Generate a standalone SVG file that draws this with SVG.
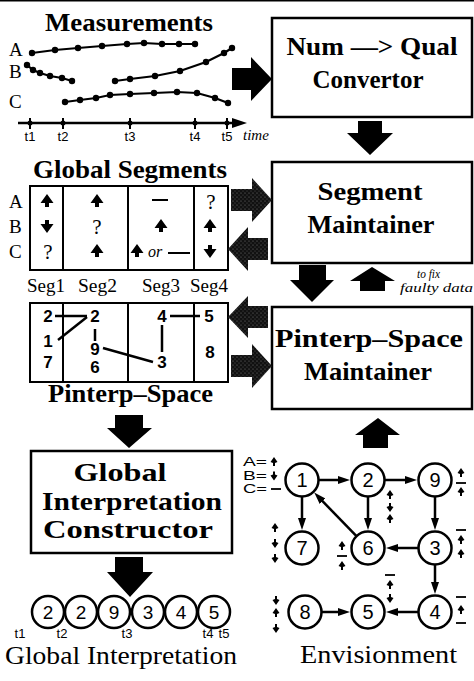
<svg xmlns="http://www.w3.org/2000/svg" width="474" height="681" viewBox="0 0 474 681">
<defs>
<style>
.box{fill:#fff;stroke:#000;stroke-width:2.5}
.tbl{fill:none;stroke:#000;stroke-width:2}
.ttl{font-family:"Liberation Serif",serif;font-weight:bold;font-size:26px;fill:#000}
.btx{font-family:"Liberation Serif",serif;font-weight:bold;font-size:26px;text-anchor:middle;fill:#000}
.cap{font-family:"Liberation Serif",serif;font-size:26px;fill:#000}
.lbl{font-family:"Liberation Serif",serif;font-size:19px;fill:#000}
.q{font-family:"Liberation Serif",serif;font-size:21px;text-anchor:middle;fill:#000}
.tl{font-family:"Liberation Sans",sans-serif;font-size:13px;text-anchor:middle;fill:#000}
.pn{font-family:"Liberation Sans",sans-serif;font-weight:bold;font-size:17px;text-anchor:middle;fill:#000}
.nn{font-family:"Liberation Sans",sans-serif;font-size:20px;text-anchor:middle;fill:#000}
.gn{font-family:"Liberation Sans",sans-serif;font-size:19px;text-anchor:middle;fill:#000}
.lg{font-family:"Liberation Sans",sans-serif;font-size:12px;fill:#000}
.it{font-family:"Liberation Serif",serif;font-style:italic;fill:#000}
.ln{fill:none;stroke:#000;stroke-width:2.2}
.nc{fill:#fff;stroke:#000;stroke-width:2.5}
.edge{fill:none;stroke:#000;stroke-width:2.5;marker-end:url(#ah)}
.solid{fill:#000}
.stip{fill:url(#stip)}
</style>
<pattern id="stip" width="4" height="4" patternUnits="userSpaceOnUse">
<rect width="4" height="4" fill="#111"/>
<circle cx="1" cy="1" r="0.6" fill="#777"/>
<circle cx="3" cy="3" r="0.6" fill="#555"/>
</pattern>
<marker id="ah" viewBox="0 0 12 8" refX="6" refY="4" markerWidth="12" markerHeight="8" markerUnits="userSpaceOnUse" orient="auto">
<path d="M0,0 L12,4 L0,8 Z" fill="#000"/>
</marker>
<path id="ua" d="M0,-7 L6.5,2 L2,2 L2,6 L-2,6 L-2,2 L-6.5,2 Z" fill="#000"/>
<path id="da" d="M0,7 L6.5,-2 L2,-2 L2,-6 L-2,-6 L-2,-2 L-6.5,-2 Z" fill="#000"/>
<path id="su" d="M0,-5 L3.5,0 L1,1 L1,4 L-1,4 L-1,1 L-3.5,0 Z" fill="#000"/>
<path id="sd" d="M0,5 L3.5,0 L1,-1 L1,-4 L-1,-4 L-1,-1 L-3.5,0 Z" fill="#000"/>
<rect id="sm" x="-5" y="-0.9" width="10" height="1.8" fill="#000"/>
</defs>
<rect x="0" y="0" width="474" height="1.5" fill="#000"/>

<g id="measurements">
<text class="ttl" x="45" y="31" textLength="168" lengthAdjust="spacingAndGlyphs">Measurements</text>
<text class="lbl" x="9" y="56">A</text>
<text class="lbl" x="9" y="78">B</text>
<text class="lbl" x="9" y="108">C</text>
<polyline class="ln" points="32,53 55,50 78,48 102,46 127,44 144,43 162,44 179,44 195,44"/>
<polyline class="ln" points="27,65 33,70 40,73 50,76 62,78 72,81"/>
<polyline class="ln" points="115,81 130,79 155,76 180,71 206,62 224,53 232,48"/>
<polyline class="ln" points="65,102 80,100 96,98 110,95 130,94 154,93 177,92 197,93 215,98 228,103"/>
<g fill="#000">
<circle cx="32" cy="53" r="3.2"/><circle cx="55" cy="50" r="3.2"/><circle cx="78" cy="48" r="3.2"/><circle cx="102" cy="46" r="3.2"/><circle cx="127" cy="44" r="3.2"/><circle cx="144" cy="43" r="3.2"/><circle cx="162" cy="44" r="3.2"/><circle cx="179" cy="44" r="3.2"/><circle cx="195" cy="44" r="3.2"/>
<circle cx="27" cy="65" r="3.2"/><circle cx="33" cy="70" r="3.2"/><circle cx="40" cy="73" r="3.2"/><circle cx="50" cy="76" r="3.2"/><circle cx="62" cy="78" r="3.2"/><circle cx="72" cy="81" r="3.2"/>
<circle cx="115" cy="81" r="3.2"/><circle cx="130" cy="79" r="3.2"/><circle cx="155" cy="76" r="3.2"/><circle cx="180" cy="71" r="3.2"/><circle cx="206" cy="62" r="3.2"/><circle cx="224" cy="53" r="3.2"/><circle cx="232" cy="48" r="3.2"/>
<circle cx="65" cy="102" r="3.2"/><circle cx="80" cy="100" r="3.2"/><circle cx="96" cy="98" r="3.2"/><circle cx="110" cy="95" r="3.2"/><circle cx="130" cy="94" r="3.2"/><circle cx="154" cy="93" r="3.2"/><circle cx="177" cy="92" r="3.2"/><circle cx="197" cy="93" r="3.2"/><circle cx="215" cy="98" r="3.2"/><circle cx="228" cy="103" r="3.2"/>
</g>
<line x1="18" y1="123" x2="236" y2="123" stroke="#000" stroke-width="2.5"/>
<path d="M232,118 L247,123 L232,128 Z" fill="#000"/>
<g stroke="#000" stroke-width="2">
<line x1="30" y1="118" x2="30" y2="129"/><line x1="63" y1="118" x2="63" y2="129"/><line x1="130" y1="118" x2="130" y2="129"/><line x1="195" y1="118" x2="195" y2="129"/><line x1="227" y1="118" x2="227" y2="129"/>
</g>
<g fill="#000">
<circle cx="30" cy="123" r="2.5"/><circle cx="63" cy="123" r="2.5"/><circle cx="130" cy="123" r="2.5"/><circle cx="195" cy="123" r="2.5"/><circle cx="227" cy="123" r="2.5"/>
</g>
<text class="tl" x="30" y="141" font-size="14">t1</text>
<text class="tl" x="63" y="141" font-size="14">t2</text>
<text class="tl" x="130" y="141" font-size="14">t3</text>
<text class="tl" x="195" y="141" font-size="14">t4</text>
<text class="tl" x="227" y="141" font-size="14">t5</text>
<text class="it" x="243" y="140" font-size="15">time</text>
</g>

<g id="num-qual">
<rect class="box" x="272" y="18" width="200" height="99"/>
<text class="btx" x="372" y="55" font-size="23" textLength="171" lengthAdjust="spacingAndGlyphs">Num —&gt; Qual</text>
<text class="btx" x="368" y="88" font-size="23" textLength="111" lengthAdjust="spacingAndGlyphs">Convertor</text>
</g>

<g id="global-segments">
<text class="ttl" x="33" y="178" textLength="194" lengthAdjust="spacingAndGlyphs">Global Segments</text>
<text class="lbl" x="9" y="208">A</text>
<text class="lbl" x="9" y="233">B</text>
<text class="lbl" x="9" y="258">C</text>
<rect class="tbl" x="30" y="186" width="198" height="84"/>
<line class="tbl" x1="63" y1="186" x2="63" y2="270"/>
<line class="tbl" x1="128" y1="186" x2="128" y2="270"/>
<line class="tbl" x1="194" y1="186" x2="194" y2="270"/>
<use href="#ua" x="47" y="201"/>
<use href="#da" x="47" y="226"/>
<text class="q" x="48" y="259">?</text>
<use href="#ua" x="97" y="201"/>
<text class="q" x="97" y="234">?</text>
<use href="#ua" x="97" y="251"/>
<line x1="152" y1="200" x2="168" y2="200" stroke="#000" stroke-width="2"/>
<use href="#ua" x="161" y="226"/>
<use href="#ua" x="137" y="251"/>
<text class="it" x="148" y="257" font-size="16">or</text>
<line x1="168" y1="253" x2="190" y2="253" stroke="#000" stroke-width="2"/>
<text class="q" x="211" y="209">?</text>
<use href="#ua" x="210" y="226"/>
<use href="#da" x="210" y="251"/>
</g>

<g id="segment-maintainer">
<rect class="box" x="272" y="162" width="200" height="101"/>
<text class="btx" x="370" y="200" textLength="105" lengthAdjust="spacingAndGlyphs">Segment</text>
<text class="btx" x="371" y="233" textLength="127" lengthAdjust="spacingAndGlyphs">Maintainer</text>
</g>

<g id="pinterp-space">
<text class="lbl" x="27" y="292" textLength="38" lengthAdjust="spacingAndGlyphs">Seg1</text>
<text class="lbl" x="78" y="292" textLength="39" lengthAdjust="spacingAndGlyphs">Seg2</text>
<text class="lbl" x="142" y="292" textLength="38" lengthAdjust="spacingAndGlyphs">Seg3</text>
<text class="lbl" x="190" y="292" textLength="38" lengthAdjust="spacingAndGlyphs">Seg4</text>
<rect class="tbl" x="30" y="303" width="198" height="79"/>
<line class="tbl" x1="63" y1="303" x2="63" y2="382"/>
<line class="tbl" x1="128" y1="303" x2="128" y2="382"/>
<line class="tbl" x1="194" y1="303" x2="194" y2="382"/>
<text class="pn" x="48" y="322">2</text>
<text class="pn" x="48" y="347">1</text>
<text class="pn" x="48" y="368">7</text>
<text class="pn" x="95" y="322">2</text>
<text class="pn" x="95" y="355">9</text>
<text class="pn" x="95" y="373">6</text>
<text class="pn" x="162" y="322">4</text>
<text class="pn" x="162" y="368">3</text>
<text class="pn" x="209" y="322">5</text>
<text class="pn" x="210" y="358">8</text>
<g stroke="#000" stroke-width="2.5" fill="none">
<line x1="55" y1="316" x2="87" y2="316"/>
<line x1="87" y1="317" x2="58" y2="340"/>
<line x1="95" y1="329" x2="95" y2="341"/>
<line x1="103" y1="348" x2="153" y2="362"/>
<line x1="162" y1="325" x2="162" y2="352"/>
<line x1="170" y1="316" x2="200" y2="316"/>
</g>
<text class="ttl" x="48" y="402" textLength="165" lengthAdjust="spacingAndGlyphs">Pinterp–Space</text>
</g>

<g id="pinterp-maintainer">
<rect class="box" x="272" y="307" width="200" height="102"/>
<text class="btx" x="369" y="347" textLength="188" lengthAdjust="spacingAndGlyphs">Pinterp–Space</text>
<text class="btx" x="368" y="380" textLength="128" lengthAdjust="spacingAndGlyphs">Maintainer</text>
<text class="it" x="417" y="277.5" font-size="13" textLength="23" lengthAdjust="spacingAndGlyphs">to fix</text>
<text class="it" x="400" y="292" font-size="13" textLength="73" lengthAdjust="spacingAndGlyphs">faulty data</text>
</g>

<g id="gic">
<rect class="box" x="31" y="451" width="201" height="102"/>
<text class="btx" x="120" y="481" font-size="25" textLength="93" lengthAdjust="spacingAndGlyphs">Global</text>
<text class="btx" x="132" y="510" font-size="25" textLength="180" lengthAdjust="spacingAndGlyphs">Interpretation</text>
<text class="btx" x="128" y="538" font-size="25" textLength="170" lengthAdjust="spacingAndGlyphs">Constructor</text>
</g>

<g id="global-interp">
<circle class="nc" cx="48" cy="612" r="16"/>
<circle class="nc" cx="81" cy="612" r="16"/>
<circle class="nc" cx="114" cy="612" r="16"/>
<circle class="nc" cx="148" cy="612" r="16"/>
<circle class="nc" cx="181" cy="612" r="16"/>
<circle class="nc" cx="214" cy="612" r="16"/>
<text class="gn" x="48" y="619">2</text>
<text class="gn" x="81" y="619">2</text>
<text class="gn" x="114" y="619">9</text>
<text class="gn" x="148" y="619">3</text>
<text class="gn" x="181" y="619">4</text>
<text class="gn" x="214" y="619">5</text>
<text class="tl" x="20" y="638">t1</text>
<text class="tl" x="62" y="638">t2</text>
<text class="tl" x="127" y="638">t3</text>
<text class="tl" x="208" y="638">t4</text>
<text class="tl" x="224" y="638">t5</text>
<text class="cap" x="5" y="664" textLength="232" lengthAdjust="spacingAndGlyphs">Global Interpretation</text>
</g>

<g id="envisionment">
<text class="lg" x="243" y="466" textLength="24" lengthAdjust="spacingAndGlyphs">A=</text>
<text class="lg" x="243" y="479.5" textLength="24" lengthAdjust="spacingAndGlyphs">B=</text>
<text class="lg" x="243" y="493" textLength="24" lengthAdjust="spacingAndGlyphs">C=</text>
<use href="#su" x="274" y="462"/>
<use href="#sd" x="274" y="475.5"/>
<use href="#sm" x="276" y="489"/>
<g id="n1"><circle class="nc" cx="302" cy="480" r="16.5"/><text class="nn" x="302" y="487">1</text></g>
<g id="n2"><circle class="nc" cx="368" cy="480" r="16.5"/><text class="nn" x="368" y="487">2</text></g>
<g id="n9"><circle class="nc" cx="435" cy="480" r="16.5"/><text class="nn" x="435" y="487">9</text></g>
<g id="n7"><circle class="nc" cx="302" cy="548" r="16.5"/><text class="nn" x="302" y="555">7</text></g>
<g id="n6"><circle class="nc" cx="368" cy="548" r="16.5"/><text class="nn" x="368" y="555">6</text></g>
<g id="n3"><circle class="nc" cx="435" cy="548" r="16.5"/><text class="nn" x="435" y="555">3</text></g>
<g id="n8"><circle class="nc" cx="305" cy="612" r="16.5"/><text class="nn" x="305" y="619">8</text></g>
<g id="n5"><circle class="nc" cx="368" cy="612" r="16.5"/><text class="nn" x="368" y="619">5</text></g>
<g id="n4"><circle class="nc" cx="435" cy="612" r="16.5"/><text class="nn" x="435" y="619">4</text></g>
<use href="#su" x="461" y="473"/><use href="#sm" x="461" y="483"/><use href="#su" x="461" y="492"/>
<use href="#su" x="390" y="495"/><use href="#sd" x="390" y="507"/><use href="#su" x="390" y="519"/>
<use href="#su" x="275" y="528"/><use href="#sd" x="275" y="543"/><use href="#sd" x="275" y="558"/>
<use href="#su" x="342" y="546"/><use href="#sm" x="342" y="556"/><use href="#su" x="342" y="566"/>
<use href="#sm" x="461" y="530"/><use href="#su" x="461" y="540"/><use href="#su" x="461" y="554"/>
<use href="#sm" x="390" y="575"/><use href="#su" x="390" y="585"/><use href="#sd" x="390" y="598"/>
<use href="#sm" x="461" y="597"/><use href="#su" x="461" y="610"/><use href="#sm" x="461" y="623"/>
<use href="#sd" x="276" y="600"/><use href="#su" x="276" y="613"/><use href="#sd" x="276" y="628"/>
<text class="cap" x="300" y="663" textLength="157" lengthAdjust="spacingAndGlyphs">Envisionment</text>
</g>

<g id="connectors">
<path class="solid" d="M232,68 H251 V57 L272,79 L251,101 V90 H232 Z"/>
<path class="solid" d="M358,121 H382 V133 H393 L370,155 L347,133 H358 Z"/>
<path class="stip" d="M231,189 H252 V178 L272,200 L252,222 V211 H231 Z"/>
<path class="stip" d="M268,238 H248 V227 L228,249 L248,271 V260 H268 Z"/>
<path class="stip" d="M268,306 H248 V296 L228,317 L248,338 V328 H268 Z"/>
<path class="stip" d="M231,355 H252 V344 L272,366 L252,388 V377 H231 Z"/>
<path class="solid" d="M299,265 H326 V280 H334 L312,302 L290,280 H299 Z"/>
<path class="solid" d="M360,291 V281 H350 L372,267 L395,281 H385 V291 Z"/>
<path class="solid" d="M115,415 H143 V428 H152 L129,448 L107,428 H115 Z"/>
<path class="solid" d="M115,557 H143 V572 H153 L130,597 L107,572 H115 Z"/>
<path class="solid" d="M363,448 V435 H355 L378,418 L400,435 H388 V448 Z"/>
<path class="edge" d="M319,480 L344,480"/>
<path class="edge" d="M385,480 L411,480"/>
<path class="edge" d="M302,497 L302,524"/>
<path class="edge" d="M368,497 L368,524"/>
<path class="edge" d="M435,497 L435,524"/>
<path class="edge" d="M356.5,536.2 L318.4,496.9"/>
<path class="edge" d="M418,548 L392,548"/>
<path class="edge" d="M435,565 L435,588"/>
<path class="edge" d="M418,612 L392,612"/>
<path class="edge" d="M322,612 L344,612"/>
</g>
</svg>
